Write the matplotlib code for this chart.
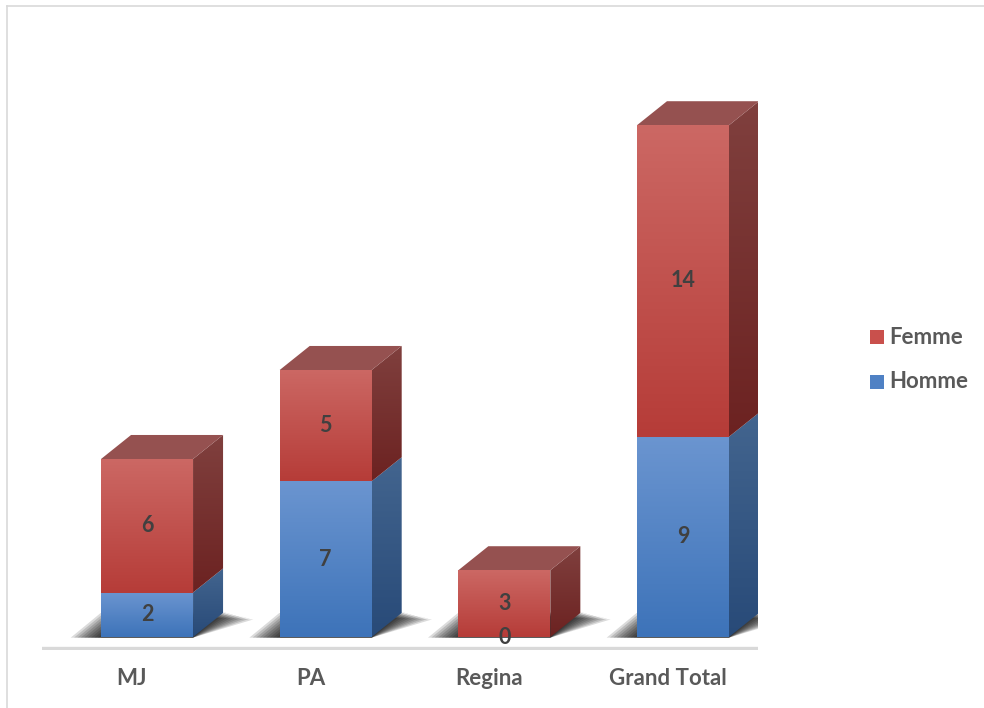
import numpy as np
import matplotlib
matplotlib.use("Agg")
import matplotlib.pyplot as plt
from matplotlib.patches import Polygon, Rectangle
from matplotlib.colors import LinearSegmentedColormap
from matplotlib.lines import Line2D

# data
categories = ["MJ", "PA", "Regina", "Grand Total"]
homme = [2, 7, 0, 9]
femme = [6, 5, 3, 14]

plt.rcParams["font.family"] = ["Lato", "DejaVu Sans"]
plt.rcParams["font.weight"] = "bold"

W, H = 984, 708
fig = plt.figure(figsize=(W / 100, H / 100), dpi=100)
# axes placed in pixel terms: floor line from x=42 to x=758, y=650 to y=20
ax = fig.add_axes([42 / W, 1 - 650 / H, (758 - 42) / W, (650 - 20) / H])
ax.set_axis_off()

bar_w = 0.515
dx, dy = 0.168, 1.08  # depth of the fake 3d boxes (data units)

# colours (top, bottom) of the gradients
red_front = ("#cc6864", "#b63c38")
red_side = ("#80403e", "#6c2221")
red_top = "#955150"
blue_front = ("#6b95d0", "#3d73b9")
blue_side = ("#43658f", "#284a78")


def grad_fill(verts, c_top, c_bot, z):
    poly = Polygon(verts, closed=True, facecolor="none", edgecolor="none", zorder=z)
    ax.add_patch(poly)
    xs = [v[0] for v in verts]
    ys = [v[1] for v in verts]
    cmap = LinearSegmentedColormap.from_list("g", [c_bot, c_top])
    arr = np.linspace(0, 1, 256).reshape(-1, 1)
    im = ax.imshow(arr, cmap=cmap, origin="lower", aspect="auto",
                   extent=[min(xs), max(xs), min(ys), max(ys)],
                   interpolation="bilinear", zorder=z)
    im.set_clip_path(poly)


x = np.arange(len(categories))

# soft shadows on the floor
for i in x:
    xl, xr = i - bar_w / 2, i + bar_w / 2
    for e in np.linspace(0.17, 0.0, 10):
        sh = Polygon([(xl - e, -0.03), (xr, -0.03), (xr + dx + e, dy + 0.05 - e * 2),
                      (xl + dx - e, dy)], closed=True, facecolor="black",
                     edgecolor="none", alpha=0.14, zorder=1)
        ax.add_patch(sh)

# stacked boxes
for i in x:
    xl, xr = i - bar_w / 2, i + bar_w / 2
    segs = [(0, homme[i], blue_front, blue_side), (homme[i], femme[i], red_front, red_side)]
    for bottom, val, front, side in segs:
        if val == 0:
            continue
        y0, y1 = bottom, bottom + val
        grad_fill([(xl, y0), (xr, y0), (xr, y1), (xl, y1)], front[0], front[1], 3)
        grad_fill([(xr, y0), (xr + dx, y0 + dy), (xr + dx, y1 + dy), (xr, y1)],
                  side[0], side[1], 2)
    top = homme[i] + femme[i]
    ax.add_patch(Polygon([(xl, top), (xl + dx, top + dy), (xr + dx, top + dy), (xr, top)],
                         closed=True, facecolor=red_top, edgecolor="none", zorder=2))
    # data labels
    ax.text(i, homme[i] / 2, str(homme[i]), ha="center", va="center",
            fontsize=15.5, fontweight="bold", color="#404040", zorder=6)
    ax.text(i, homme[i] + femme[i] / 2, str(femme[i]), ha="center", va="center",
            fontsize=15.5, fontweight="bold", color="#404040", zorder=6)

# floor line
ax.axhline(-0.49, color="#d9d9d9", lw=2.4, zorder=0)

ax.set_xlim(-0.588, 3.420)
ax.set_ylim(-0.584, 27.73)

# category labels (sit slightly left of the box centres, as in the 3d view)
for i, c in zip(x, categories):
    ax.text(i - 0.085, -1.85, c, ha="center", va="center", fontsize=16,
            fontweight="bold", color="#595959", clip_on=False)

# legend
for label, col, yy in [("Femme", "#c9504c", 337), ("Homme", "#4f81c4", 382)]:
    fig.patches.append(Rectangle((870 / W, 1 - (yy + 7) / H), 14 / W, 14 / H,
                                 transform=fig.transFigure, facecolor=col,
                                 edgecolor="none"))
    fig.text(889 / W, 1 - yy / H, label, ha="left", va="center", fontsize=16,
             fontweight="bold", color="#595959")

# faint chart border (top and left visible)
fig.add_artist(Line2D([7 / W, 1], [1 - 6 / H, 1 - 6 / H], transform=fig.transFigure,
                      color="#d9d9d9", lw=1.2))
fig.add_artist(Line2D([7 / W, 7 / W], [1 - 6 / H, 0], transform=fig.transFigure,
                      color="#d9d9d9", lw=1.2))

fig.savefig("out.png", dpi=100)
